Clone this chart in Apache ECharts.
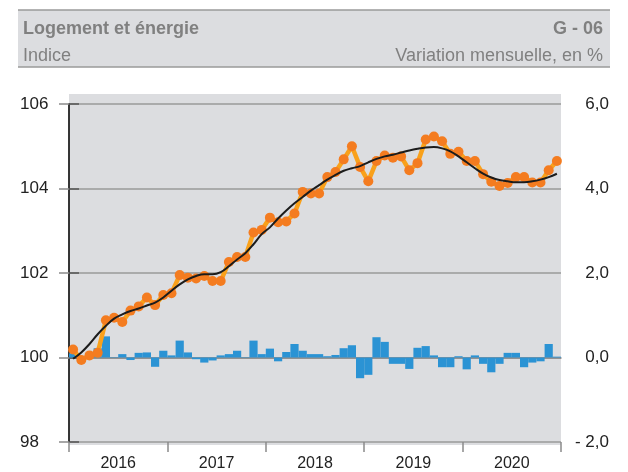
<!DOCTYPE html>
<html>
<head>
<meta charset="utf-8">
<script src="https://cdn.jsdelivr.net/npm/echarts@6/dist/echarts.min.js"></script>
<style>
  html, body { margin: 0; padding: 0; background: #fff; }
  #chart { width: 628px; height: 472px; }
</style>
</head>
<body>
<div id="chart"></div>
<script>
// années affichées sous l'axe
var years = ['2016', '2017', '2018', '2019', '2020'];

// indice mensuel (courbe orange)
var indice = [
  100.19, 99.94, 100.05, 100.11, 100.88, 100.94, 100.84, 101.11, 101.21, 101.42, 101.24, 101.48,
  101.52, 101.95, 101.89, 101.87, 101.93, 101.81, 101.81, 102.26, 102.38, 102.38, 102.96, 103.02,
  103.31, 103.20, 103.22, 103.41, 103.92, 103.88, 103.88, 104.27, 104.39, 104.69, 105.00, 104.51,
  104.17, 104.65, 104.78, 104.73, 104.76, 104.43, 104.60, 105.16, 105.23, 105.12, 104.82, 104.87,
  104.65, 104.65, 104.34, 104.16, 104.06, 104.13, 104.27, 104.27, 104.14, 104.14, 104.43, 104.65
];

// tendance (courbe noire)
var tendance = [
  99.97, 100.12, 100.32, 100.55, 100.75, 100.92, 101.02, 101.10, 101.16, 101.23, 101.30, 101.42,
  101.58, 101.73, 101.85, 101.93, 101.97, 101.97, 102.02, 102.16, 102.32, 102.47, 102.68, 102.92,
  103.08, 103.29, 103.48, 103.65, 103.80, 103.95, 104.08, 104.21, 104.32, 104.42, 104.48, 104.53,
  104.62, 104.70, 104.76, 104.80, 104.85, 104.90, 104.94, 104.97, 104.98, 104.95, 104.88, 104.76,
  104.62, 104.48, 104.35, 104.26, 104.20, 104.17, 104.15, 104.15, 104.17, 104.21, 104.27, 104.35
];

// variation mensuelle en % (barres bleues)
var variation = [
  0.10, 0.03, 0.06, 0.22, 0.50, 0.01, 0.08, -0.06, 0.11, 0.12, -0.22, 0.16,
  0.05, 0.40, 0.12, -0.04, -0.12, -0.07, 0.05, 0.08, 0.16, 0.01, 0.40, 0.08,
  0.21, -0.09, 0.13, 0.32, 0.16, 0.08, 0.08, 0.03, 0.06, 0.22, 0.29, -0.49,
  -0.41, 0.48, 0.37, -0.15, -0.15, -0.27, 0.23, 0.27, 0.05, -0.23, -0.23, 0.03,
  -0.28, 0.05, -0.15, -0.35, -0.15, 0.11, 0.11, -0.23, -0.12, -0.09, 0.32, 0.02
];

var leftTicks = ['98', '100', '102', '104', '106'];
var rightTicks = ['- 2,0', '0,0', '2,0', '4,0', '6,0'];

var mois = [];
for (var y = 0; y < years.length; y++) {
  for (var m = 1; m <= 12; m++) {
    mois.push(years[y] + '-' + (m < 10 ? '0' + m : m));
  }
}

var font = 'Liberation Sans, Arial, sans-serif';
var chart = echarts.init(document.getElementById('chart'), null, { renderer: 'canvas' });

var option = {
  animation: false,
  backgroundColor: '#fff',
  textStyle: { fontFamily: font },
  graphic: [
    { type: 'rect', z: -10, shape: { x: 18, y: 10, width: 592, height: 57 }, style: { fill: '#dcdde0' } },
    { type: 'line', z: -9, shape: { x1: 18, y1: 10, x2: 610, y2: 10 }, style: { stroke: '#9a9a9a', lineWidth: 1.5 } },
    { type: 'line', z: -9, shape: { x1: 18, y1: 67, x2: 610, y2: 67 }, style: { stroke: '#9a9a9a', lineWidth: 1.5 } },
    { type: 'rect', z: -10, shape: { x: 69, y: 94, width: 492, height: 351 }, style: { fill: '#dcdde0' } }
  ],
  title: [
    { text: 'Logement et énergie', left: 18, top: 15, textStyle: { fontFamily: font, fontSize: 18, fontWeight: 'bold', color: '#808080' } },
    { text: 'G - 06', right: 20, top: 15, textStyle: { fontFamily: font, fontSize: 18, fontWeight: 'bold', color: '#808080' } },
    { text: 'Indice', left: 18, top: 42, textStyle: { fontFamily: font, fontSize: 18, fontWeight: 'normal', color: '#808080' } },
    { text: 'Variation mensuelle, en %', right: 20, top: 42, textStyle: { fontFamily: font, fontSize: 18, fontWeight: 'normal', color: '#808080' } }
  ],
  grid: { left: 69, right: 67, top: 104, bottom: 27 },
  xAxis: [
    {
      type: 'category',
      data: mois,
      boundaryGap: true,
      axisLine: { show: true, lineStyle: { color: '#8a8a8a', width: 1.5 } },
      axisTick: { show: false },
      axisLabel: { show: false },
      splitLine: { show: false }
    },
    {
      type: 'value', min: 0, max: 60, interval: 12, position: 'bottom',
      axisLine: { show: false },
      axisTick: { show: true, length: 10, lineStyle: { color: '#8a8a8a', width: 1.5 } },
      axisLabel: { show: false },
      splitLine: { show: false }
    },
    {
      type: 'value', min: 0, max: 60, interval: 6, position: 'bottom',
      axisLine: { show: false },
      axisTick: { show: false },
      splitLine: { show: false },
      axisLabel: {
        margin: 14, fontSize: 16, color: '#222', fontFamily: font,
        formatter: function (v) { return v % 12 === 6 ? years[(v - 6) / 12] : ''; }
      }
    }
  ],
  yAxis: [
    {
      type: 'value', min: 98, max: 106, interval: 2, position: 'left',
      axisLine: { show: true, lineStyle: { color: '#8a8a8a', width: 1.5 } },
      axisTick: { show: true, length: 10, lineStyle: { color: '#8a8a8a', width: 1.5 } },
      splitLine: { show: true, lineStyle: { color: '#9a9a9a', width: 1.5 } },
      axisLabel: {
        margin: 49, align: 'left', fontSize: 17, color: '#222', fontFamily: font,
        formatter: function (v) { return leftTicks[(v - 98) / 2]; }
      }
    },
    {
      type: 'value', min: -2, max: 6, interval: 2, position: 'right',
      axisLine: { show: true, lineStyle: { color: '#111', width: 1.5 } },
      axisTick: { show: true, length: 10, lineStyle: { color: '#555', width: 1.5 } },
      splitLine: { show: false },
      axisLabel: {
        margin: 48, align: 'right', fontSize: 17, color: '#222', fontFamily: font,
        formatter: function (v) { return rightTicks[(v + 2) / 2]; }
      }
    }
  ],
  series: [
    {
      name: 'Variation', type: 'bar', xAxisIndex: 0, yAxisIndex: 1,
      data: variation, barWidth: '100%',
      itemStyle: { color: '#2b93d4', borderWidth: 0 },
      z: 2
    },
    {
      name: 'Indice', type: 'line', xAxisIndex: 0, yAxisIndex: 0,
      data: indice, symbol: 'circle', symbolSize: 10,
      showSymbol: true, showAllSymbol: true,
      lineStyle: { color: '#f9a11b', width: 4.5 },
      itemStyle: { color: '#f47c20', borderWidth: 0 },
      z: 3
    },
    {
      name: 'Tendance', type: 'line', xAxisIndex: 0, yAxisIndex: 0,
      data: tendance, symbol: 'none', smooth: 0.4,
      lineStyle: { color: '#1c1c1c', width: 2 },
      z: 4
    }
  ]
};

chart.setOption(option);
</script>
</body>
</html>
